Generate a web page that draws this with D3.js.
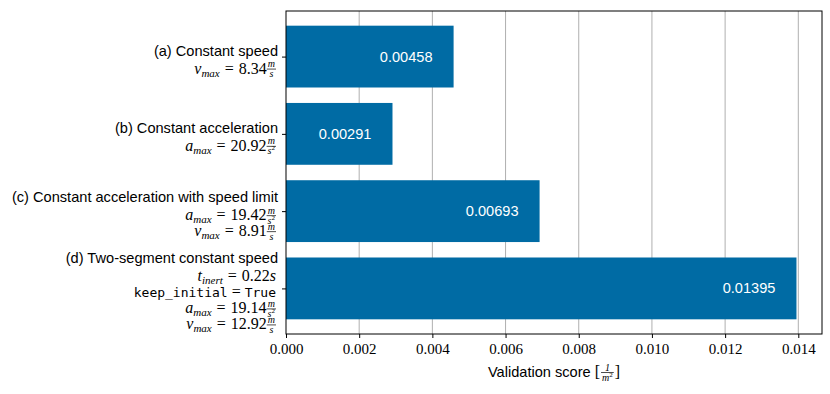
<!DOCTYPE html>
<html>
<head>
<meta charset="utf-8">
<script src="https://cdn.jsdelivr.net/npm/d3@7"></script>
<style>
  body { margin: 0; background: #fff; }
  text { white-space: pre; }
</style>
</head>
<body>
<div id="chart"></div>
<script>
(function() {
  // data
  var categories = ["(a) Constant speed", "(b) Constant acceleration",
    "(c) Constant acceleration with speed limit", "(d) Two-segment constant speed"];
  var scores = [0.00458, 0.00291, 0.00693, 0.01395];
  var scoreLabels = ["0.00458", "0.00291", "0.00693", "0.01395"];
  // fitted parameters shown under each category name
  var params = [
    [{sym: "v", sub: "max", val: "8.34", num: "m", den: "s"}],
    [{sym: "a", sub: "max", val: "20.92", num: "m", den: "s2"}],
    [{sym: "a", sub: "max", val: "19.42", num: "m", den: "s2"},
     {sym: "v", sub: "max", val: "8.91", num: "m", den: "s"}],
    [{sym: "t", sub: "inert", val: "0.22", unit: "s"},
     {mono: "keep_initial", monoVal: "True"},
     {sym: "a", sub: "max", val: "19.14", num: "m", den: "s2"},
     {sym: "v", sub: "max", val: "12.92", num: "m", den: "s"}]
  ];
  var xTicks = [0, 0.002, 0.004, 0.006, 0.008, 0.010, 0.012, 0.014];

  var W = 830, H = 394;
  var margin = {top: 11, left: 286, right: 8, bottom: 60};
  var width = W - margin.left - margin.right,
      height = H - margin.top - margin.bottom;

  var serif = "'Liberation Serif', 'DejaVu Serif', serif";
  var sans = "'Liberation Sans', Arial, sans-serif";
  var mono = "'DejaVu Sans Mono', 'Liberation Mono', monospace";

  var svg = d3.select("#chart").append("svg")
    .attr("width", W).attr("height", H)
    .append("g")
    .attr("transform", "translate(" + margin.left + "," + margin.top + ")");

  var xMax = d3.max(scores) * 1.05;
  var x = d3.scaleLinear().domain([0, xMax]).range([0, width]);
  var n = categories.length;
  var pad = 0.05 * (n - 1 + 0.8);
  var y = d3.scaleLinear().domain([-0.4 - pad, n - 1 + 0.4 + pad]).range([0, height]);

  // grid
  svg.append("g").selectAll("line")
    .data(xTicks.slice(1))
    .enter().append("line")
    .attr("x1", function(d) { return x(d); })
    .attr("x2", function(d) { return x(d); })
    .attr("y1", 0).attr("y2", height)
    .attr("stroke", "#b0b0b0").attr("stroke-width", 1);

  // bars
  svg.append("g").selectAll("rect")
    .data(scores)
    .enter().append("rect")
    .attr("x", x(0))
    .attr("y", function(d, i) { return y(i - 0.4); })
    .attr("width", function(d) { return x(d) - x(0); })
    .attr("height", y(0.8) - y(0))
    .attr("fill", "#006BA4");

  svg.append("g").selectAll("text")
    .data(scores)
    .enter().append("text")
    .attr("x", function(d) { return x(d) - 21; })
    .attr("y", function(d, i) { return y(i) + 5; })
    .attr("text-anchor", "end")
    .attr("fill", "#fff")
    .style("font-family", sans)
    .style("font-size", "14.6px")
    .text(function(d, i) { return scoreLabels[i]; });

  // frame
  svg.append("rect")
    .attr("width", width).attr("height", height)
    .attr("fill", "none").attr("stroke", "#000").attr("stroke-width", 1);

  // x axis
  var xAxis = d3.axisBottom(x).tickValues(xTicks).tickFormat(d3.format(".3f"))
    .tickSizeInner(4).tickSizeOuter(0).tickPadding(5);
  var gx = svg.append("g")
    .attr("transform", "translate(0," + height + ")")
    .attr("font-family", serif)
    .call(xAxis);
  gx.select(".domain").remove();
  gx.selectAll("text").style("font-family", serif).style("font-size", "15px").attr("fill", "#000");

  // y axis ticks
  var yAxis = d3.axisLeft(y).tickValues(d3.range(n)).tickFormat("").tickSizeInner(4).tickSizeOuter(0);
  var gy = svg.append("g").call(yAxis);
  gy.select(".domain").remove();

  // helper: draw a small math expression right-aligned at xr, baseline yb
  function piece(g, txt, cx, by, font, size, italic) {
    var t = g.append("text").attr("x", cx).attr("y", by)
      .style("font-family", font).style("font-size", size + "px")
      .style("font-style", italic ? "italic" : "normal")
      .attr("fill", "#000").text(txt);
    return t.node().getComputedTextLength();
  }
  function frac(g, num, den, cx, by) {
    var tmp = g.append("g");
    var wn = piece(tmp, num, 0, 0, serif, 10, true);
    var wd = piece(tmp, den.replace("2", ""), 0, 0, serif, 10, true);
    var hasSq = den.indexOf("2") >= 0;
    var wsq = hasSq ? piece(tmp, "2", 0, 0, serif, 7, false) : 0;
    tmp.remove();
    var w = Math.max(wn, wd + wsq) + 2;
    piece(g, num, cx + (w - wn) / 2, by - 6.5, serif, 10, true);
    var dx = cx + (w - wd - wsq) / 2;
    piece(g, den.replace("2", ""), dx, by + 3.5, serif, 10, true);
    if (hasSq) piece(g, "2", dx + wd, by - 0.5, serif, 7, false);
    g.append("line").attr("x1", cx).attr("x2", cx + w)
      .attr("y1", by - 4.5).attr("y2", by - 4.5)
      .attr("stroke", "#000").attr("stroke-width", 0.7);
    return w;
  }
  function mathLine(parent, p, xr, yb) {
    var g = parent.append("g");
    var cx = 0;
    if (p.mono) {
      cx += piece(g, p.mono, cx, yb, mono, 13, false);
      cx += 4;
      cx += piece(g, "=", cx, yb, serif, 16, false);
      cx += 4;
      cx += piece(g, p.monoVal, cx, yb, mono, 13, false);
    } else {
      cx += piece(g, p.sym, cx, yb, serif, 16, true);
      cx += piece(g, p.sub, cx, yb + 3, serif, 11, true);
      cx += 5;
      cx += piece(g, "=", cx, yb, serif, 16, false);
      cx += 5;
      cx += piece(g, p.val, cx, yb, serif, 16, false);
      if (p.unit) cx += piece(g, p.unit, cx, yb, serif, 16, true);
      if (p.num) cx += frac(g, p.num, p.den, cx, yb);
    }
    g.attr("transform", "translate(" + (xr - cx) + ",0)");
  }

  // y labels
  var titleGap = 18, lh = 16;
  var labels = svg.append("g");
  categories.forEach(function(cat, i) {
    var span = titleGap + (params[i].length - 1) * lh;
    var b0 = y(i) - span / 2 + 8;
    labels.append("text")
      .attr("x", -8).attr("y", b0)
      .attr("text-anchor", "end")
      .style("font-family", sans).style("font-size", "14.6px")
      .attr("fill", "#000")
      .text(cat);
    params[i].forEach(function(p, j) {
      mathLine(labels, p, -10, b0 + titleGap + j * lh);
    });
  });

  // x label
  var xlg = svg.append("g");
  var xlw = 0;
  xlw += piece(xlg, "Validation score ", 0, 0, sans, 14.6, false);
  xlw += piece(xlg, "[", xlw, 0, serif, 16, false) + 1;
  xlw += frac(xlg, "1", "m2", xlw, 0) + 1;
  xlw += piece(xlg, "]", xlw, 0, serif, 16, false);
  xlg.attr("transform", "translate(" + (width / 2 - xlw / 2) + "," + (height + 43) + ")");
})();
</script>
</body>
</html>
